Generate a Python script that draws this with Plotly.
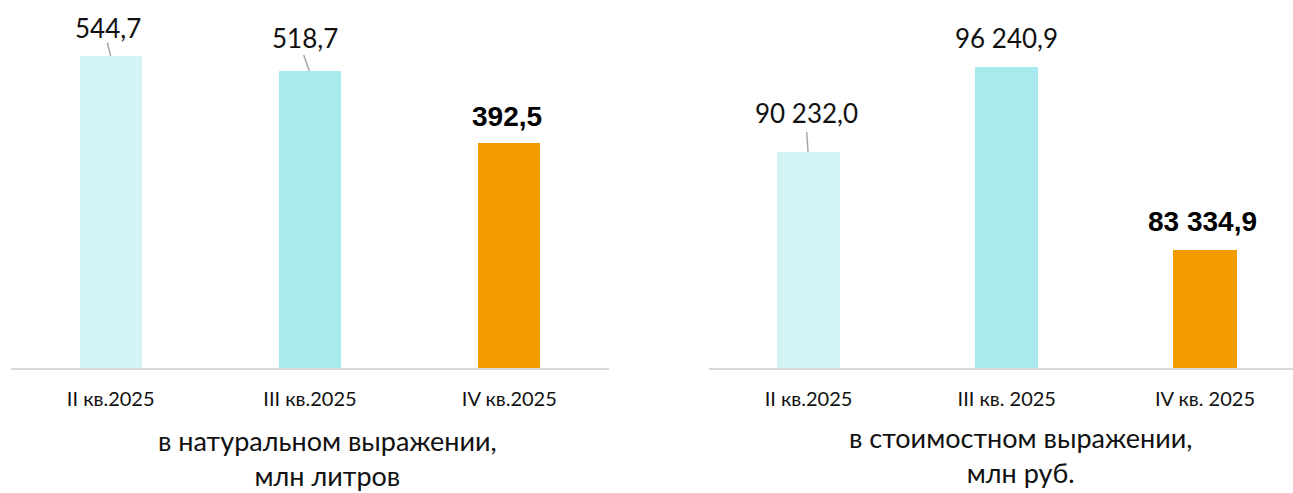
import plotly.graph_objects as go

# ---- data ----
cats_left = ["II кв.2025", "III кв.2025", "IV кв.2025"]
vals_left = [544.7, 518.7, 392.5]
labels_left = ["544,7", "518,7", "392,5"]

cats_right = ["II кв.2025", "III кв. 2025", "IV кв. 2025"]
vals_right = [90232.0, 96240.9, 83334.9]
labels_right = ["90 232,0", "96 240,9", "83 334,9"]

bar_colors = ["#d4f3f5", "#a8eaee", "#f39c00"]
bold_flags = [False, False, True]

title_left = "в натуральном выражении,<br>млн литров"
title_right = "в стоимостном выражении,<br>млн руб."

W, H = 1293, 493
PLOT_BOTTOM = 368
FONT = "Lato, 'Open Sans', sans-serif"
BOLD_FONT = "'Liberation Sans', Arial, sans-serif"

fig = go.Figure()
fig.add_trace(go.Bar(x=list(range(3)), y=vals_left, marker=dict(color=bar_colors, line=dict(width=0)),
                     width=0.31, xaxis="x", yaxis="y", hoverinfo="skip"))
fig.add_trace(go.Bar(x=list(range(3)), y=vals_right, marker=dict(color=bar_colors, line=dict(width=0)),
                     width=0.318, xaxis="x2", yaxis="y2", hoverinfo="skip"))

annotations = []
shapes = []
# (xshift, yshift, leader) per bar, pixel offsets
left_pos = [(-2.5, 28, (-3.3, 13.3, 0, 0)), (-5.5, 33, (-6.3, 16, -0.7, 0)), (-2, 27, None)]
right_pos = [(-1.8, 39, (-1.8, 20, -0.5, 0)), (0, 29, None), (-2, 28, None)]

for (xa, ya, vals, labs, pos) in [("x", "y", vals_left, labels_left, left_pos),
                                  ("x2", "y2", vals_right, labels_right, right_pos)]:
    for i, (v, lab) in enumerate(zip(vals, labs)):
        xs, ys, leader = pos[i]
        if bold_flags[i]:
            txt = "<b>" + lab + "</b>"
            f = dict(family=BOLD_FONT, size=28, color="#000000")
        else:
            txt = lab
            f = dict(family=FONT, size=26, color="#111111")
        annotations.append(dict(x=i, y=v, xref=xa, yref=ya, text=txt, showarrow=False,
                                xanchor="center", yanchor="middle", xshift=xs, yshift=ys, font=f))
        if leader:
            x0, y0, x1, y1 = leader
            shapes.append(dict(type="line", xref=xa, yref=ya, xsizemode="pixel", ysizemode="pixel",
                               xanchor=i, yanchor=v, x0=x0, y0=y0, x1=x1, y1=y1,
                               line=dict(color="#a6a6a6", width=1.5)))

def py(px):
    return (PLOT_BOTTOM - px) / PLOT_BOTTOM

for txt, cx, cy in [(title_left, 327, 458), (title_right, 1020, 455)]:
    annotations.append(dict(x=cx / W, y=py(cy), xref="paper", yref="paper", text=txt,
                            showarrow=False, xanchor="center", yanchor="middle", align="center",
                            font=dict(family=FONT, size=27, color="#111111")))

axis_common = dict(showgrid=False, zeroline=False, showline=True, linecolor="#d9d9d9", linewidth=2,
                   ticks="", tickfont=dict(family=FONT, size=20, color="#111111"), ticklabelstandoff=12,
                   tickmode="array", tickvals=list(range(3)), fixedrange=True)

fig.update_layout(
    width=W, height=H,
    margin=dict(l=0, r=0, t=0, b=H - PLOT_BOTTOM, pad=0),
    paper_bgcolor="white", plot_bgcolor="white",
    showlegend=False,
    xaxis=dict(domain=[11 / W, 609 / W], range=[-0.5, 2.5], ticktext=cats_left, anchor="y", **axis_common),
    yaxis=dict(domain=[0, 1], range=[0, 642.5], visible=False, anchor="x"),
    xaxis2=dict(domain=[709 / W, 1], range=[-0.502, 2.444], ticktext=cats_right, anchor="y2", **axis_common),
    yaxis2=dict(domain=[0, 1], range=[75000, 100950], visible=False, anchor="x2"),
    annotations=annotations,
    shapes=shapes,
    bargap=0,
)

fig.write_html("out.html", config={"displayModeBar": False},
               post_script="document.body.style.margin='0px';document.body.style.overflow='hidden';")
